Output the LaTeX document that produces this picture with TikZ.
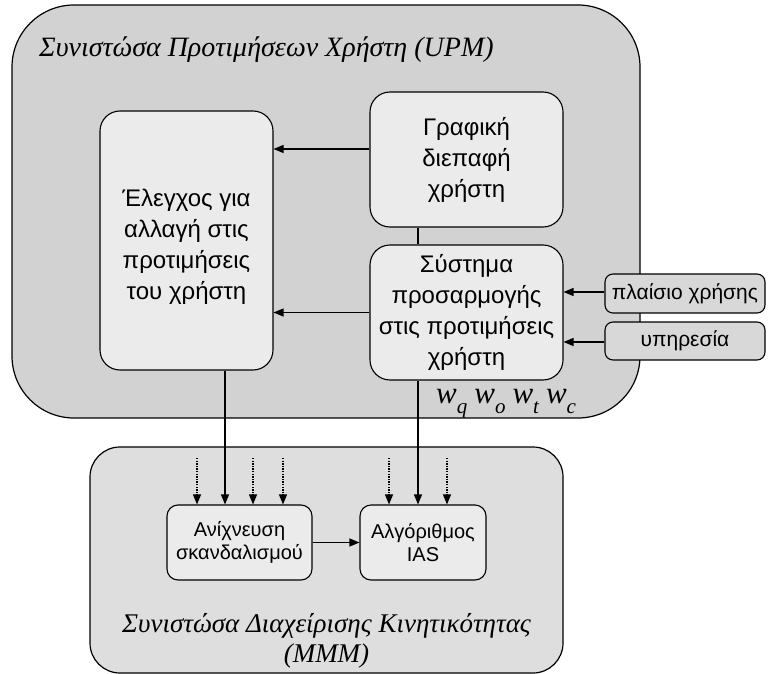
\documentclass[tikz,border=0pt]{standalone}
\usepackage{fontspec}
\setmainfont{Liberation Serif}
\newfontfamily\grsans{Liberation Sans}
\usetikzlibrary{arrows.meta}

\definecolor{upmfill}{HTML}{D2D2D2}
\definecolor{mmmfill}{HTML}{DEDEDE}
\definecolor{boxfill}{HTML}{EBEBEB}
\definecolor{tagfill}{HTML}{D8D8D8}

% lowered subscript for the weight labels
\newcommand\wlow[1]{\raisebox{-0.33em}{\fontsize{21pt}{21pt}\selectfont #1}}

\begin{document}
\begin{tikzpicture}[x=1pt,y=-1pt,
  frame/.style={draw, line width=1.2pt, inner sep=0pt},
  unit/.style={draw, fill=boxfill, line width=1.1pt, rounded corners=20pt,
    align=center, inner sep=0pt, font=\grsans\fontsize{24pt}{31pt}\selectfont},
  subunit/.style={draw, fill=boxfill, line width=1.1pt, rounded corners=11pt,
    align=center, inner sep=0pt, font=\grsans\fontsize{20pt}{23pt}\selectfont},
  tag/.style={draw, fill=tagfill, line width=1.1pt, rounded corners=8pt,
    inner sep=0pt, font=\grsans\fontsize{21pt}{24pt}\selectfont},
  caption/.style={font=\itshape\fontsize{27pt}{30pt}\selectfont, inner sep=0pt},
  flow/.style={-{Triangle[length=10pt,width=8pt]}, line width=1.3pt},
  feed/.style={flow, dash pattern=on 1.3pt off 1.3pt},
  plain/.style={line width=1.3pt}]
\useasboundingbox (0,0) rectangle (768,674);

% user preference component
\node[frame, fill=upmfill, rounded corners=62pt, minimum width=628pt,
  minimum height=413pt] (upm) at (326,211.5) {};
\node[caption, anchor=base west, font=\itshape\fontsize{28pt}{30pt}\selectfont]
  (upmtitle) at (39,57) {Συνιστώσα Προτιμήσεων Χρήστη (UPM)};

% mobility management component
\node[frame, fill=mmmfill, rounded corners=30pt, minimum width=473pt,
  minimum height=226pt] (mmm) at (326.5,560) {};
\node[caption, align=center] (mmmtitle) at (326.5,641)
  {Συνιστώσα Διαχείρισης Κινητικότητας\\(MMM)};

% inner units
\node[unit, minimum width=173pt, minimum height=259pt] (ctrl) at (186.5,240.5)
  {\rule{0pt}{30pt}Έλεγχος για\\αλλαγή στις\\προτιμήσεις\\του χρήστη};
\node[unit, minimum width=193pt, minimum height=135pt] (gui) at (466.5,159.5)
  {Γραφική\\διεπαφή\\χρήστη};
\node[unit, minimum width=193pt, minimum height=135pt] (adapt) at (466.5,312.5)
  {Σύστημα\\προσαρμογής\\στις προτιμήσεις\\χρήστη};

% external inputs
\node[tag, minimum width=160pt, minimum height=39pt] (ctx) at (685,293.5)
  {πλαίσιο χρήσης};
\node[tag, minimum width=160pt, minimum height=38pt] (srv) at (685,341)
  {υπηρεσία};

% mobility sub-units
\node[subunit, minimum width=145pt, minimum height=75pt] (detect) at (239.5,542.5)
  {Ανίχνευση\\σκανδαλισμού};
\node[subunit, minimum width=126pt, minimum height=75pt] (ias) at (423,542.5)
  {Αλγόριθμος\\IAS};

% weights
\node[anchor=base west, inner sep=0pt, font=\itshape\fontsize{31pt}{31pt}\selectfont]
  (weights) at (436,403)
  {w\wlow{q}\hspace{7pt}w\wlow{o}\hspace{7pt}w\wlow{t}\hspace{7pt}w\wlow{c}};

% connectors inside UPM
\draw[flow] (gui.west |- 0,149) -- (ctrl.east |- 0,149);
\draw[flow] (adapt.west) -- (ctrl.east |- adapt.west);
\draw[flow] (ctx.west |- 0,292) -- (adapt.east |- 0,292);
\draw[flow] (srv.west |- 0,342) -- (adapt.east |- 0,342);
\draw[plain] ([xshift=-48.5pt]gui.south) -- ([xshift=-48.5pt]adapt.north);

% connectors into MMM
\draw[flow] ([xshift=38.5pt]ctrl.south) -- ([xshift=38.5pt]ctrl.south |- detect.north);
\draw[flow] ([xshift=-48.5pt]adapt.south) -- ([xshift=-48.5pt]adapt.south |- ias.north);
\draw[flow] (detect.east) -- (ias.west);

% other inputs
\coordinate (d1) at (197,458);
\coordinate (d2) at (253,458);
\coordinate (d3) at (283,458);
\coordinate (d4) at (389,458);
\coordinate (d5) at (447,458);
\foreach \c in {d1,d2,d3}
  \draw[feed] (\c) -- (\c |- detect.north);
\foreach \c in {d4,d5}
  \draw[feed] (\c) -- (\c |- ias.north);
\end{tikzpicture}
\end{document}
